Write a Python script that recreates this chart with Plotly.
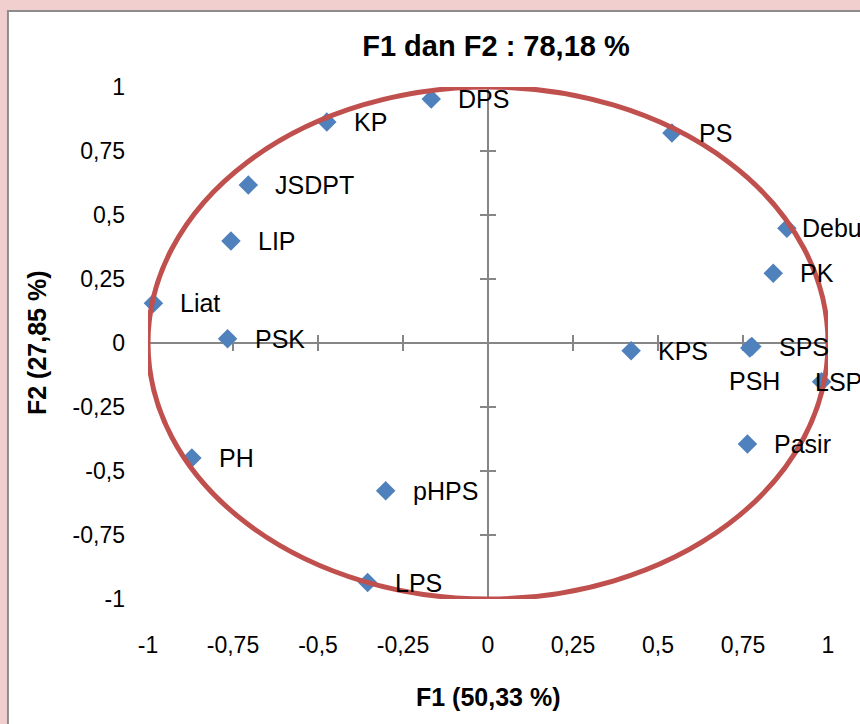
import plotly.graph_objects as go

# ---- data ----
labels = ["DPS", "KP", "PS", "JSDPT", "LIP", "Debu", "PK", "Liat", "PSK",
          "KPS", "SPS", "PSH", "LSP", "Pasir", "PH", "pHPS", "LPS"]
f1 = [-0.167, -0.474, 0.541, -0.705, -0.756, 0.879, 0.839, -0.984, -0.766,
      0.421, 0.776, 0.770, 0.981, 0.763, -0.871, -0.301, -0.354]
f2 = [0.953, 0.863, 0.820, 0.617, 0.398, 0.448, 0.272, 0.155, 0.017,
      -0.030, -0.014, -0.020, -0.151, -0.395, -0.449, -0.577, -0.936]

tick_vals = [-1, -0.75, -0.5, -0.25, 0, 0.25, 0.5, 0.75, 1]
tick_text = ["-1", "-0,75", "-0,5", "-0,25", "0", "0,25", "0,5", "0,75", "1"]

title_text = "F1 dan F2 : 78,18 %"
x_title = "F1 (50,33 %)"
y_title = "F2 (27,85 %)"

# ---- style ----
marker_color = "#4F81BD"
circle_color = "#C0504D"
axis_color = "#868686"
font_family = "Arial, Liberation Sans, sans-serif"
label_default_shift = (25, 0)
label_shift_override = {"Debu": (13, 0), "LSP": (-9, 0), "PSH": (-23, -33)}

fig = go.Figure()

fig.add_trace(go.Scatter(
    x=f1, y=f2, mode="markers",
    marker=dict(symbol="diamond", size=15, color=marker_color,
                line=dict(width=0)),
    cliponaxis=False, hoverinfo="text", text=labels, showlegend=False))

annotations = []
for lab, xv, yv in zip(labels, f1, f2):
    dx, dy = label_shift_override.get(lab, label_default_shift)
    annotations.append(dict(
        x=xv, y=yv, xref="x", yref="y", text=lab, showarrow=False,
        xanchor="left", yanchor="middle", xshift=dx, yshift=dy,
        font=dict(size=25, color="black", family=font_family)))

# axis titles
annotations.append(dict(x=0.5, y=0, xref="paper", yref="paper", text="<b>%s</b>" % x_title,
                        showarrow=False, xanchor="center", yanchor="middle", yshift=-98,
                        font=dict(size=25, color="black", family=font_family)))
annotations.append(dict(x=0, y=0.5, xref="paper", yref="paper", text="<b>%s</b>" % y_title,
                        showarrow=False, xanchor="center", yanchor="middle", xshift=-111,
                        textangle=-90,
                        font=dict(size=25, color="black", family=font_family)))

shapes = []
# chart frame
shapes.append(dict(type="rect", xref="paper", yref="paper", x0=-0.206, x1=1.3,
                   y0=-0.4, y1=1.1484, fillcolor="white",
                   line=dict(color="#8c8c8c", width=2), layer="below"))
# crossing tick marks on the axes
for t in tick_vals:
    shapes.append(dict(type="line", xref="x", yref="y", x0=t, x1=t,
                       ysizemode="pixel", yanchor=0, y0=-8, y1=8,
                       line=dict(color=axis_color, width=2), layer="below"))
    shapes.append(dict(type="line", xref="x", yref="y", y0=t, y1=t,
                       xsizemode="pixel", xanchor=0, x0=-8, x1=8,
                       line=dict(color=axis_color, width=2), layer="below"))
# correlation circle
shapes.append(dict(type="circle", xref="x", yref="y", x0=-1, x1=1, y0=-1, y1=1,
                   line=dict(color=circle_color, width=5), layer="above"))

fig.update_layout(
    width=860, height=724,
    margin=dict(l=148, r=32, t=87, b=125),
    paper_bgcolor="#f2cfcf", plot_bgcolor="rgba(0,0,0,0)",
    title=dict(text="<b>%s</b>" % title_text, x=496 / 860, xanchor="center",
               y=1 - 46 / 724, yanchor="middle",
               font=dict(size=29, color="black", family=font_family)),
    xaxis=dict(range=[-1, 1], tickvals=tick_vals, ticktext=tick_text,
               showgrid=False, zeroline=True, zerolinecolor=axis_color, zerolinewidth=2,
               showline=False, ticks="", ticklabelstandoff=30,
               tickfont=dict(size=23, color="black", family=font_family)),
    yaxis=dict(range=[-1, 1], tickvals=tick_vals, ticktext=tick_text,
               showgrid=False, zeroline=True, zerolinecolor=axis_color, zerolinewidth=2,
               showline=False, ticks="", ticklabelstandoff=22,
               tickfont=dict(size=23, color="black", family=font_family)),
    annotations=annotations, shapes=shapes,
)

fig.write_html("out.html", config={"displayModeBar": False},
               post_script="document.body.style.margin='0';document.body.style.overflow='hidden';")
